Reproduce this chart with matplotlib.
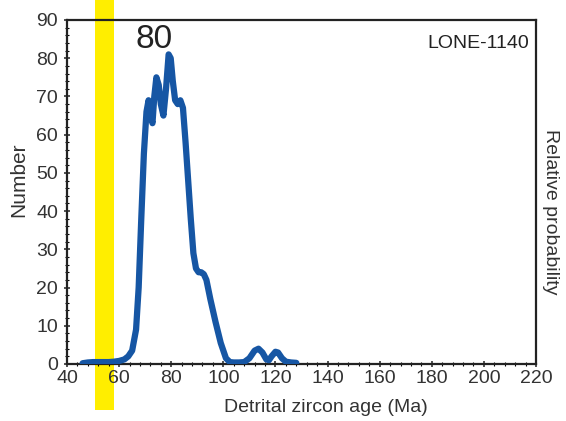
import matplotlib
matplotlib.use("Agg")
import matplotlib.pyplot as plt
from matplotlib.ticker import MultipleLocator

plt.rcParams["font.family"] = ["Liberation Sans", "DejaVu Sans"]

# Data
age = [46, 48, 50, 52, 54, 56, 58, 60, 62, 63.5, 65, 66.5, 67.5, 68.5, 69.5, 70.5, 71.3,
       72, 72.8, 73.5, 74.3, 75.2, 76, 77, 78, 79, 79.8, 80.6, 81.5, 82.5, 83.5, 84.5,
       85.5, 86.5, 87.5, 88.5, 89.5, 90.5, 91.5, 92.5, 93.5, 95, 97, 99, 101, 102.5,
       104, 106, 108, 110, 112, 113.5, 115, 116.5, 117.5, 118.5, 120, 121, 122.5,
       124, 126, 128]
number = [0.2, 0.4, 0.5, 0.5, 0.5, 0.5, 0.6, 0.8, 1.2, 2, 3.5, 9, 20, 38, 55, 66, 69,
          65, 63, 70, 75, 73, 68, 65, 72, 81, 80, 74, 69, 68, 69, 67,
          58, 48, 38, 29, 25, 24, 24, 23.5, 22, 17, 11, 5.5, 1.5, 0.5,
          0.4, 0.4, 0.5, 1.5, 3.5, 4, 3, 1.2, 1, 2, 3.2, 3, 1.5,
          0.6, 0.4, 0.3]
band = [50.7, 58.0]
peak_label = "80"
sample = "LONE-1140"

fig = plt.figure(figsize=(5.66, 4.21), dpi=100)
ax = fig.add_axes([0.1184, 0.1354, 0.8286, 0.8171])

ax.axvspan(band[0], band[1], ymin=-0.134, ymax=1.07, color="#ffee00",
           clip_on=False, zorder=0, lw=0)
ax.plot(age, number, color="#1656a4", lw=4.5, solid_joinstyle="round",
        solid_capstyle="round", zorder=3)

ax.set_xlim(40, 220)
ax.set_ylim(0, 90)
ax.xaxis.set_major_locator(MultipleLocator(20))
ax.xaxis.set_minor_locator(MultipleLocator(4))
ax.yaxis.set_major_locator(MultipleLocator(10))
ax.yaxis.set_minor_locator(MultipleLocator(2))
ax.tick_params(which="major", direction="inout", length=5, width=1.2,
               labelsize=14, colors="#333333", top=False, right=False)
ax.tick_params(axis="x", which="major", pad=2)
ax.tick_params(axis="y", which="major", pad=4)
ax.tick_params(which="minor", direction="inout", length=3, width=0.8,
               top=False, right=False)
for s in ax.spines.values():
    s.set_linewidth(1.6)
    s.set_color("#222222")

fig.text(326 / 566, 1 - 408 / 421, "Detrital zircon age (Ma)", ha="center", va="center",
         fontsize=14, color="#333333")
ax.set_ylabel("Number", fontsize=15, color="#333333")
ax.yaxis.set_label_coords(-0.083, 0.535)
ax.text(1.012, 0.442, "Relative probability", transform=ax.transAxes, rotation=-90,
        ha="left", va="center", fontsize=14, color="#333333")
ax.text(0.985, 0.955, sample, transform=ax.transAxes, ha="right", va="top",
        fontsize=14, color="#222222")
ax.text(73.5, 85, peak_label, ha="center", va="center", fontsize=24, color="#222222")

fig.savefig("out.png", dpi=100)
